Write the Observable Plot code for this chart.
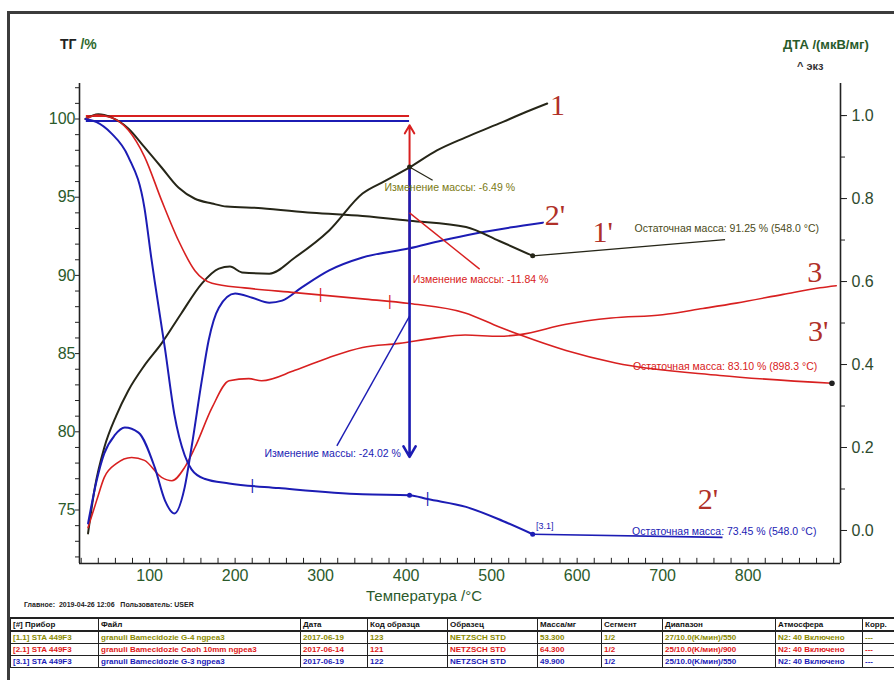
<!DOCTYPE html>
<html><head><meta charset="utf-8">
<script src="https://cdn.jsdelivr.net/npm/d3@7"></script>
<script src="https://cdn.jsdelivr.net/npm/@observablehq/plot@0.6"></script>
<style>
body{margin:0;background:#fff;font-family:"Liberation Sans",Arial,sans-serif;}
#wrap{position:relative;width:894px;height:680px;overflow:hidden;background:#fff;}
#frame{position:absolute;left:7px;top:11px;width:900px;height:700px;border-top:3px solid #3c3c3c;border-left:3px solid #3c3c3c;}
#chart{position:absolute;left:0;top:0;}
.t{position:absolute;white-space:nowrap;}
table{position:absolute;left:10px;top:617px;border-collapse:collapse;font-size:8px;font-weight:bold;table-layout:fixed;width:890px;}
td{border:1px solid #222;padding:0 2px;height:11px;line-height:11px;white-space:nowrap;overflow:hidden;}
tr.h td{border-top:2px solid #222;border-bottom:2px solid #222;color:#111;}
</style></head>
<body><div id="wrap"><div id="frame"></div><div id="chart"></div>
<div class="t" style="left:60px;top:36px;font-size:14px;font-weight:bold;"><span style="color:#222">ТГ</span> <span style="color:#2f6a2f">/%</span></div>
<div class="t" style="left:783px;top:37px;font-size:13px;font-weight:bold;color:#285a2a;">ДТА /(мкВ/мг)</div>
<div class="t" style="left:797px;top:60px;font-size:11px;font-weight:bold;color:#333;">^ экз</div>
<div class="t" style="left:366px;top:587px;font-size:15px;color:#2b5a2b;">Температура /°C</div>
<div class="t" style="left:24px;top:601px;font-size:7px;font-weight:bold;color:#222;">Главное:&nbsp; 2019-04-26 12:06 &nbsp; Пользователь: USER</div>
<div id="tbl"></div>
</div>
<script>
// ---------------- data ----------------
// TG (mass, %) of sample 1 (dark), 2 (blue), 3 (red)
const tgDarkT = [25, 40, 55, 75, 94, 114, 134, 153, 173, 190, 231, 290, 349, 404, 470, 509, 548];
const tgDarkV = [100, 100.3, 100.1, 99.4, 98.2, 96.9, 95.6, 94.9, 94.6, 94.4, 94.3, 94.0, 93.8, 93.5, 93.1, 92.2, 91.25];
const tgBlueT = [25, 38, 55, 75, 94, 102, 106, 118, 129, 141, 149, 164, 193, 251, 349, 404, 425, 470, 513, 548];
const tgBlueV = [100, 99.8, 99.1, 97.6, 94.3, 91.1, 89.6, 85.3, 81.1, 78.5, 77.6, 77.0, 76.7, 76.4, 76.0, 75.95, 75.7, 75.2, 74.3, 73.45];
const tgRedT = [25, 38, 55, 75, 94, 114, 134, 153, 173, 211, 270, 349, 404, 469, 509, 533, 587, 645, 767, 898];
const tgRedV = [100, 100.25, 100.1, 99.3, 97.6, 94.8, 92.2, 90.3, 89.5, 89.2, 88.9, 88.5, 88.2, 87.6, 86.7, 86.2, 85.2, 84.4, 83.6, 83.1];
// DTA (µV/mg)
const dtaDarkT = [28, 36, 47, 61, 75, 94, 114, 137, 161, 181, 194, 208, 240, 270, 310, 349, 376, 404, 436, 469, 509, 536, 565];
const dtaDarkV = [-0.007, 0.104, 0.20, 0.277, 0.337, 0.398, 0.451, 0.523, 0.595, 0.631, 0.636, 0.622, 0.619, 0.658, 0.723, 0.812, 0.843, 0.875, 0.916, 0.947, 0.981, 1.005, 1.029];
const dtaBlueT = [28, 38, 47, 59, 71, 87, 106, 118, 129, 141, 149, 161, 169, 181, 200, 220, 240, 255, 278, 310, 349, 404, 442, 481, 521, 560];
const dtaBlueV = [0.017, 0.12, 0.186, 0.229, 0.248, 0.236, 0.152, 0.072, 0.041, 0.104, 0.2, 0.361, 0.458, 0.537, 0.571, 0.561, 0.549, 0.554, 0.586, 0.627, 0.658, 0.680, 0.699, 0.716, 0.730, 0.742];
const dtaRedT = [28, 38, 47, 61, 79, 94, 114, 126, 141, 153, 173, 193, 216, 231, 270, 310, 349, 392, 431, 469, 509, 533, 587, 640, 700, 747, 786, 841, 884, 903];
const dtaRedV = [0.007, 0.072, 0.128, 0.161, 0.176, 0.169, 0.128, 0.12, 0.152, 0.2, 0.296, 0.361, 0.366, 0.361, 0.386, 0.417, 0.441, 0.451, 0.463, 0.471, 0.468, 0.472, 0.497, 0.512, 0.52, 0.535, 0.548, 0.569, 0.585, 0.59];

const xTicks = [100, 200, 300, 400, 500, 600, 700, 800];
const yTicksTG = [75, 80, 85, 90, 95, 100];
const yTicksDTA = [0.0, 0.2, 0.4, 0.6, 0.8, 1.0];

// annotations: mass change at 400 °C, residual mass, curve labels
const stepT = 404;
const stepStartT = 26;
const refLevels = [100.19, 99.87];             // red, blue start-mass lines
const changeTexts = ["Изменение массы: -6.49 %", "Изменение массы: -11.84 %", "Изменение массы: -24.02 %"];
const changeAnchor = [[451, 95.63], [487, 89.7], [314, 78.6]];
const changeLeader = [[404, 96.93, 431, 96.08], [404, 94.0, 486, 90.4], [404, 87.4, 319, 79.1]];
const residTexts = ["Остаточная масса: 91.25 % (548.0 °C)", "Остаточная масса: 83.10 % (898.3 °C)", "Остаточная масса: 73.45 % (548.0 °C)"];
const residAnchor = [[775, 93.0], [773, 84.15], [772, 73.62]];
const residLeader = [[548, 91.25, 773, 92.29], [548, 73.45, 770, 73.25]];
const curveLabels = ["1", "2'", "1'", "3", "3'", "2'"];
const curveLabelPos = [[577, 100.9], [574, 93.83], [630, 92.74], [878, 90.17], [882, 86.44], [753, 75.71]];
const stepTicks = [[220, 76.55, "b"], [425, 75.75, "b"], [300, 88.8, "r"], [381, 88.35, "r"]];

// table
const tableHead = ["[#] Прибор", "Файл", "Дата", "Код образца", "Образец", "Масса/мг", "Сегмент", "Диапазон", "Атмосфера", "Корр."];
const tableRows = [
  ["[1.1] STA 449F3", "granuli Bamecidozie G-4 ngpea3", "2017-06-19", "123", "NETZSCH STD", "53.300", "1/2", "27/10.0(K/мин)/550", "N2: 40 Включено", "---"],
  ["[2.1] STA 449F3", "granuli Bamecidozie Caoh 10mm ngpea3", "2017-06-14", "121", "NETZSCH STD", "64.300", "1/2", "25/10.0(K/мин)/900", "N2: 40 Включено", "---"],
  ["[3.1] STA 449F3", "granuli Bamecidozie G-3 ngpea3", "2017-06-19", "122", "NETZSCH STD", "49.900", "1/2", "25/10.0(K/мин)/550", "N2: 40 Включено", "---"]
];
const colWidths = [88, 202, 67, 80, 90, 64, 61, 113, 87, 38];
const rowColors = ["#8a8a00", "#e01818", "#1a1ab8"];

// ---------------- chart ----------------
const X0 = 18, X1 = 908, Y0 = 71.58, Y1 = 102.27;
const dta2tg = d => 73.69 + 26.53 * d;
const tg2dta = v => (v - 73.69) / 26.53;
const zip = (T, V) => T.map((t, i) => ({t, v: V[i]}));

const cDark = "#262618", cBlue = "#1c1cb4", cRed = "#d82020", cLab = "#b03028";
const green = "#2b5a2b";

const chart = Plot.plot({
  width: 894, height: 615,
  marginLeft: 79, marginRight: 54, marginTop: 83, marginBottom: 52,
  x: {domain: [X0, X1]},
  y: {domain: [Y0, Y1]},
  style: {fontFamily: "Liberation Sans, Arial, sans-serif", background: "transparent", overflow: "visible"},
  marks: [
    // axis lines
    Plot.ruleX([X0, X1], {stroke: "#222", strokeWidth: 1.6}),
    Plot.ruleY([Y0], {stroke: "#222", strokeWidth: 1.6}),
    // bottom axis: inward minor ticks + labels
    Plot.ruleX(d3.range(20, 901, 20), {x: d => d, y1: Y0, y2: Y0 + 0.33, stroke: "#222"}),
    Plot.axisX(xTicks, {anchor: "bottom", tickSize: 0, tickPadding: 6, fontSize: 16, color: green, label: null}),
    // left axis
    Plot.axisY(d3.range(72, 103), {anchor: "left", tickSize: 4, tickFormat: () => "", color: "#222", label: null}),
    Plot.axisY(yTicksTG, {anchor: "left", tickSize: 0, tickPadding: 4, fontSize: 16, color: green, label: null}),
    // right axis (DTA)
    Plot.axisY(d3.range(0, 1.05, 0.1).map(dta2tg), {anchor: "right", tickSize: 4, tickFormat: () => "", color: "#222", label: null}),
    Plot.axisY(yTicksDTA.map(dta2tg), {anchor: "right", tickSize: 6, tickFormat: () => "", color: "#222", label: null}),
    Plot.axisY(yTicksDTA.map(dta2tg), {anchor: "right", tickSize: 0, tickPadding: 11, fontSize: 16, color: "#2e4a2e", label: null, tickFormat: v => tg2dta(v).toFixed(1)}),
    // start-mass reference lines
    Plot.ruleY([refLevels[0]], {x1: stepStartT, x2: stepT, stroke: cRed, strokeWidth: 2}),
    Plot.ruleY([refLevels[1]], {x1: stepStartT, x2: stepT, stroke: cBlue, strokeWidth: 2}),
    // DTA curves
    Plot.line(zip(dtaDarkT, dtaDarkV), {x: "t", y: d => dta2tg(d.v), stroke: cDark, strokeWidth: 2, curve: "monotone-x"}),
    Plot.line(zip(dtaRedT, dtaRedV), {x: "t", y: d => dta2tg(d.v), stroke: cRed, strokeWidth: 1.6, curve: "monotone-x"}),
    Plot.line(zip(dtaBlueT, dtaBlueV), {x: "t", y: d => dta2tg(d.v), stroke: cBlue, strokeWidth: 2, curve: "monotone-x"}),
    // TG curves
    Plot.line(zip(tgDarkT, tgDarkV), {x: "t", y: "v", stroke: cDark, strokeWidth: 2, curve: "monotone-x"}),
    Plot.line(zip(tgRedT, tgRedV), {x: "t", y: "v", stroke: cRed, strokeWidth: 1.6, curve: "monotone-x"}),
    Plot.line(zip(tgBlueT, tgBlueV), {x: "t", y: "v", stroke: cBlue, strokeWidth: 2, curve: "monotone-x"}),
    // mass-change arrows at 400 °C
    Plot.arrow([0], {x1: stepT, y1: 88.2, x2: stepT, y2: 99.6, stroke: cRed, strokeWidth: 2, headLength: 7}),
    Plot.arrow([0], {x1: stepT, y1: 96.93, x2: stepT, y2: 78.4, stroke: cBlue, strokeWidth: 2.6, headLength: 7}),
    // leaders
    Plot.link([changeLeader[0]], {x1: d => d[0], y1: d => d[1], x2: d => d[2], y2: d => d[3], stroke: cDark, strokeWidth: 1.2}),
    Plot.link([changeLeader[1]], {x1: d => d[0], y1: d => d[1], x2: d => d[2], y2: d => d[3], stroke: cRed, strokeWidth: 1.4}),
    Plot.link([changeLeader[2]], {x1: d => d[0], y1: d => d[1], x2: d => d[2], y2: d => d[3], stroke: cBlue, strokeWidth: 1.4}),
    Plot.link([residLeader[0]], {x1: d => d[0], y1: d => d[1], x2: d => d[2], y2: d => d[3], stroke: cDark, strokeWidth: 1.4}),
    Plot.link([residLeader[1]], {x1: d => d[0], y1: d => d[1], x2: d => d[2], y2: d => d[3], stroke: cBlue, strokeWidth: 1.6}),
    // markers
    Plot.dot([[404, 96.93], [548, 91.25]], {x: d => d[0], y: d => d[1], r: 2.5, fill: cDark}),
    Plot.dot([[404, 75.95], [548, 73.45]], {x: d => d[0], y: d => d[1], r: 2.5, fill: cBlue}),
    Plot.dot([[898, 83.1]], {x: d => d[0], y: d => d[1], r: 2.8, fill: "#222"}),
    Plot.text(stepTicks, {x: d => d[0], y: d => d[1], text: () => "|", fontSize: 14, fill: d => d[2] === "b" ? cBlue : cRed}),
    // texts
    Plot.text([0], {x: changeAnchor[0][0], y: changeAnchor[0][1], text: () => changeTexts[0], fill: "#7a7a14", fontSize: 10.5}),
    Plot.text([0], {x: changeAnchor[1][0], y: changeAnchor[1][1], text: () => changeTexts[1], fill: cRed, fontSize: 10.5}),
    Plot.text([0], {x: changeAnchor[2][0], y: changeAnchor[2][1], text: () => changeTexts[2], fill: cBlue, fontSize: 10.5}),
    Plot.text([0], {x: residAnchor[0][0], y: residAnchor[0][1], text: () => residTexts[0], fill: "#4a4a18", fontSize: 10.5}),
    Plot.text([0], {x: residAnchor[1][0], y: residAnchor[1][1], text: () => residTexts[1], fill: cRed, fontSize: 10.5}),
    Plot.text([0], {x: residAnchor[2][0], y: residAnchor[2][1], text: () => residTexts[2], fill: cBlue, fontSize: 10.5}),
    Plot.text([0], {x: 552, y: 73.99, text: () => "[3.1]", fill: cBlue, fontSize: 9, textAnchor: "start"}),
    Plot.text(curveLabelPos, {x: d => d[0], y: d => d[1], text: (d, i) => curveLabels[i], fill: cLab, fontSize: 30, fontFamily: "Liberation Serif, serif"})
  ]
});
document.getElementById("chart").appendChild(chart);

// table
let html = "<table><colgroup>" + colWidths.map(w => `<col style="width:${w}px">`).join("") + "</colgroup>";
html += "<tr class='h'>" + tableHead.map(h => `<td>${h}</td>`).join("") + "</tr>";
tableRows.forEach((r, i) => {
  html += "<tr>" + r.map(c => `<td style="color:${rowColors[i]}">${c}</td>`).join("") + "</tr>";
});
html += "</table>";
document.getElementById("tbl").innerHTML = html;
</script>
</body></html>
